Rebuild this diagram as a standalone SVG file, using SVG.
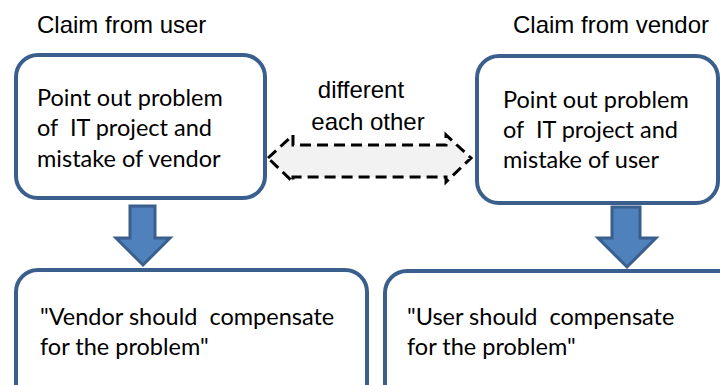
<svg xmlns="http://www.w3.org/2000/svg" width="720" height="385" viewBox="0 0 720 385">
  <style>
    .box { fill: #ffffff; stroke: #3a5f8d; stroke-width: 4; }
    .down { fill: #4f81bd; stroke: #3a5f8d; stroke-width: 3; stroke-linejoin: miter; }
    .both { fill: #f2f2f2; stroke: #000000; stroke-width: 3; stroke-dasharray: 11 6; stroke-linejoin: miter; }
    .head { font-family: "Liberation Sans", Arial, sans-serif; font-size: 24px; fill: #000; }
    .body { font-family: Lato, "Open Sans", sans-serif; font-size: 23.5px; fill: #000; white-space: pre; }
  </style>

  <text class="head" x="37" y="33">Claim from user</text>
  <text class="head" x="513" y="33">Claim from vendor</text>

  <g id="user-claim">
    <rect class="box" x="16" y="55" width="249" height="143" rx="22"/>
    <text class="body" x="37" y="106">Point out problem</text>
    <text class="body" x="37" y="136" xml:space="preserve">of  IT project and</text>
    <text class="body" x="37" y="167">mistake of vendor</text>
  </g>

  <g id="vendor-claim">
    <rect class="box" x="477" y="56" width="241" height="147" rx="22"/>
    <text class="body" x="503" y="108">Point out problem</text>
    <text class="body" x="503" y="138" xml:space="preserve">of  IT project and</text>
    <text class="body" x="503" y="168">mistake of user</text>
  </g>

  <g id="user-result">
    <rect class="box" x="16" y="270" width="351" height="140" rx="22"/>
    <text class="body" x="40" y="325" xml:space="preserve">"Vendor should  compensate</text>
    <text class="body" x="40" y="355">for the problem"</text>
  </g>

  <g id="vendor-result">
    <rect class="box" x="385" y="271" width="360" height="140" rx="22"/>
    <text class="body" x="407" y="325" xml:space="preserve">"User should  compensate</text>
    <text class="body" x="407" y="355">for the problem"</text>
  </g>

  <g id="connectors">
    <!-- downward block arrows -->
    <polygon class="down" points="130,206 155,206 155,238 170,238 143,265 116,238 130,238"/>
    <polygon class="down" points="612,207 640,207 640,238 656,238 627,267 598,238 612,238"/>
    <!-- dashed double-headed arrow between the claims -->
    <polygon class="both" points="268,158 293,135 293,145 446,145 446,135 471,158 446,182 446,177 293,177 293,182"/>
    <text class="head" x="361" y="98" text-anchor="middle">different</text>
    <text class="head" x="368" y="130" text-anchor="middle">each other</text>
  </g>
</svg>
